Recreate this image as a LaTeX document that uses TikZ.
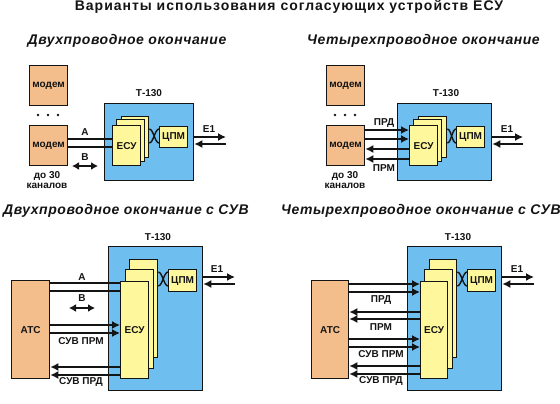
\documentclass[tikz,border=0pt]{standalone}
\usepackage{fontspec}
\setmainfont{Liberation Sans}
\newfontfamily\wideface[LetterSpace=7]{Liberation Sans}
\newfontfamily\headface[LetterSpace=4]{Liberation Sans}
\usetikzlibrary{arrows.meta}
\definecolor{bl}{HTML}{6FBEF0}
\definecolor{or}{HTML}{F3BE8B}
\definecolor{ye}{HTML}{FFF79C}
\definecolor{ink}{HTML}{141414}
\tikzset{
 x=1pt,y=-1pt,
 box/.style={draw=ink,line width=1.3pt,inner sep=0,anchor=north west},
 tel/.style={font=\bfseries\fontsize{10}{11}\selectfont,text=ink},
 head/.style={font=\headface\bfseries\itshape\fontsize{14}{16}\selectfont,text=ink},
 wire/.style={draw=ink,line width=1.5pt},
 arr/.style={wire,-{Latex[length=8pt,width=8pt]}},
 darr/.style={wire,{Latex[length=7pt,width=8pt]}-{Latex[length=7pt,width=8pt]}},
 twisted/.style={draw=ink,line width=1.4pt},
}
\newcommand{\mybox}[6]{\node[box,fill=#2,minimum width=#5-#3,minimum height=#6-#4] (#1) at (#3,#4) {};}
\newcommand{\twist}[4]{% left node, right node, upper y, lower y
 \draw[twisted] (#1.east |- 0,#3) .. controls +(4,0) and +(-4,0) .. (#2.west |- 0,#4);
 \draw[twisted] (#1.east |- 0,#4) .. controls +(4,0) and +(-4,0) .. (#2.west |- 0,#3);}
\begin{document}
\begin{tikzpicture}
\useasboundingbox (0,0) rectangle (560,404);
\fill[white] (0,0) rectangle (560,404);
\node[font=\wideface\bfseries\fontsize{14}{16}\selectfont,text=ink] (title) at (289,7) {Варианты использования согласующих устройств ЕСУ};
\node[head] (h1) at (127,41) {Двухпроводное окончание};
\node[head] (h2) at (423.5,41) {Четырехпроводное окончание};
\node[head] (h3) at (126,211) {Двухпроводное окончание с СУВ};
\node[head] (h4) at (421,211) {Четырехпроводное окончание с СУВ};

% Panel 1
\mybox{am1}{or}{29}{65}{67}{105}
\mybox{am2}{or}{29}{125}{67}{165}
\node[tel] at (am1.center) {модем};
\node[tel] at (am2.center) {модем};
\foreach \x in {38,48,58} \fill[ink] (\x,115) circle (1.3);
\mybox{at}{bl}{104}{103}{193}{180}
\node[tel] at (149,93) {Т-130};
\mybox{ae3}{ye}{121}{116}{148}{157}
\mybox{ae2}{ye}{116}{119}{144}{161}
\mybox{ae}{ye}{112}{125}{140}{165}
\node[tel] at (ae.center) {ЕСУ};
\mybox{ac}{ye}{159}{126}{187}{147}
\node[tel] at (ac.center) {ЦПМ};
\twist{ae3}{ac}{129}{143}
\draw[wire] (am2.east |- 0,139) -- (ae.west |- 0,139);
\draw[wire] (am2.east |- 0,147) -- (ae.west |- 0,147);
\node[tel] at (85,132) {А};
\node[tel] at (85,157) {В};
\coordinate (ab1) at (72,166); \coordinate (ab2) at (98,166);
\draw[darr] (ab1) -- (ab2);
\node[tel] at (47,176) {до 30};
\node[tel] at (47,186) {каналов};
\coordinate (ae1) at (226,137); \coordinate (ae2b) at (226,144);
\draw[arr] (at.east |- 0,137) -- (ae1);
\draw[arr] (ae2b) -- (at.east |- 0,144);
\node[tel] at (209,129) {Е1};

% Panel 2
\mybox{bm1}{or}{326}{65}{364}{105}
\mybox{bm2}{or}{326}{125}{364}{165}
\node[tel] at (bm1.center) {модем};
\node[tel] at (bm2.center) {модем};
\foreach \x in {335,345,355} \fill[ink] (\x,115) circle (1.3);
\mybox{bt}{bl}{397}{103}{491}{180}
\node[tel] at (446,93) {Т-130};
\mybox{be3}{ye}{418}{116}{446}{157}
\mybox{be2}{ye}{413}{119}{441}{161}
\mybox{be}{ye}{409}{125}{437}{165}
\node[tel] at (be.center) {ЕСУ};
\mybox{bc}{ye}{456}{126}{484}{147}
\node[tel] at (bc.center) {ЦПМ};
\twist{be3}{bc}{129}{143}
\draw[arr] (bm2.east |- 0,130) -- (be.west |- 0,130);
\draw[arr] (bm2.east |- 0,139) -- (be.west |- 0,139);
\draw[arr] (be.west |- 0,149) -- (bm2.east |- 0,149);
\draw[arr] (be.west |- 0,159) -- (bm2.east |- 0,159);
\node[tel] at (384,123) {ПРД};
\node[tel] at (384,168) {ПРМ};
\node[tel] at (345,176) {до 30};
\node[tel] at (345,186) {каналов};
\coordinate (be1) at (523,137); \coordinate (be2b) at (523,144);
\draw[arr] (bt.east |- 0,137) -- (be1);
\draw[arr] (be2b) -- (bt.east |- 0,144);
\node[tel] at (507,129) {Е1};

% Panel 3
\mybox{ct}{bl}{108}{246}{202}{390}
\node[tel] at (158,237) {Т-130};
\mybox{ce3}{ye}{129}{259}{157}{357}
\mybox{ce2}{ye}{125}{269}{153}{368}
\mybox{ce}{ye}{120}{281}{148}{378}
\node[tel] at (ce.center) {ЕСУ};
\mybox{cc}{ye}{168}{269}{196}{291}
\node[tel] at (cc.center) {ЦПМ};
\twist{ce3}{cc}{272}{286}
\mybox{ca}{or}{11}{280}{49}{378}
\node[tel] at (ca.center) {АТС};
\draw[wire] (ca.east |- 0,283) -- (ce.west |- 0,283);
\draw[wire] (ca.east |- 0,291) -- (ce.west |- 0,291);
\draw[arr] (ca.east |- 0,325) -- (ce.west |- 0,325);
\draw[arr] (ca.east |- 0,333) -- (ce.west |- 0,333);
\draw[arr] (ce.west |- 0,367) -- (ca.east |- 0,367);
\draw[arr] (ce.west |- 0,375) -- (ca.east |- 0,375);
\node[tel] at (82,277) {А};
\node[tel] at (82,298) {В};
\coordinate (cb1) at (69,308); \coordinate (cb2) at (95,308);
\draw[darr] (cb1) -- (cb2);
\node[tel] at (81,341) {СУВ ПРМ};
\node[tel] at (81,382) {СУВ ПРД};
\coordinate (ce1) at (235,277); \coordinate (ce2b) at (235,284);
\draw[arr] (ct.east |- 0,277) -- (ce1);
\draw[arr] (ce2b) -- (ct.east |- 0,284);
\node[tel] at (217,269) {Е1};

% Panel 4
\mybox{dt}{bl}{407}{246}{501}{390}
\node[tel] at (458,237) {Т-130};
\mybox{de3}{ye}{429}{259}{456}{357}
\mybox{de2}{ye}{424}{269}{452}{368}
\mybox{de}{ye}{420}{281}{447}{378}
\node[tel] at (de.center) {ЕСУ};
\mybox{dc}{ye}{467}{269}{495}{291}
\node[tel] at (dc.center) {ЦПМ};
\twist{de3}{dc}{272}{286}
\mybox{da}{or}{311}{280}{348}{378}
\node[tel] at (da.center) {АТС};
\draw[arr] (da.east |- 0,284) -- (de.west |- 0,284);
\draw[arr] (da.east |- 0,292) -- (de.west |- 0,292);
\draw[arr] (de.west |- 0,312) -- (da.east |- 0,312);
\draw[arr] (de.west |- 0,319) -- (da.east |- 0,319);
\draw[arr] (da.east |- 0,339) -- (de.west |- 0,339);
\draw[arr] (da.east |- 0,347) -- (de.west |- 0,347);
\draw[arr] (de.west |- 0,366) -- (da.east |- 0,366);
\draw[arr] (de.west |- 0,374) -- (da.east |- 0,374);
\node[tel] at (381,300) {ПРД};
\node[tel] at (381,327) {ПРМ};
\node[tel] at (381,354) {СУВ ПРМ};
\node[tel] at (381,381) {СУВ ПРД};
\coordinate (de1) at (534,277); \coordinate (de2b) at (534,284);
\draw[arr] (dt.east |- 0,277) -- (de1);
\draw[arr] (de2b) -- (dt.east |- 0,284);
\node[tel] at (517,269) {Е1};
\end{tikzpicture}
\end{document}
